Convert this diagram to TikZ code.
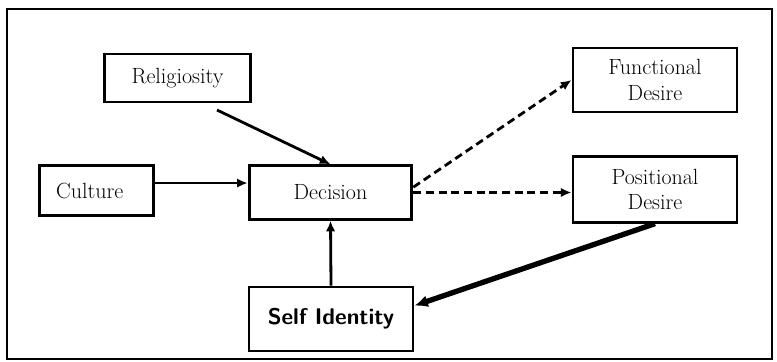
\documentclass[tikz,border=0pt]{standalone}
\usepackage{tikz}
\usetikzlibrary{arrows.meta}
\tikzset{edge/.style = {-{Latex[length=8pt,width=7pt]}, line width=2.1pt}}
\tikzset{dash edge/.style = {edge, dash pattern=on 6pt off 3.5pt}}

\begin{document}
\begin{tikzpicture}[x=0.75pt, y=-0.75pt, box node/.style={rectangle,draw,line width=2.2pt,align=center,font=\fontsize{16.5}{19}\selectfont}]
            \useasboundingbox (0,0) rectangle (777,361);
            \draw[line width=2.2pt] (7,9) rectangle (772,359);
            \node[box node, minimum width=110pt, minimum height=36pt] (rel) at (177.5,78) {Religiosity};
            \node[box node, minimum width=86pt, minimum height=37pt] (cult) at (96.5,190.5) {Culture\hspace*{10pt}};
            \node[box node, minimum width=122pt, minimum height=40pt] (dec) at (330.5,192.5) {Decision};
            \node[box node, minimum width=123pt, minimum height=48pt] (fun) at (655,80) {Functional\\Desire};
            \node[box node, minimum width=123pt, minimum height=49pt] (pos) at (655,189.5) {Positional\\Desire};
            \node[box node, minimum width=123pt, minimum height=48pt, font=\fontsize{17}{20}\selectfont\sffamily\bfseries] (self) at (331,319) {Self Identity};
            \coordinate (relout) at (217,110);
            \draw[edge] (relout) -- (dec.north);
            \draw[edge] ([yshift=5.6pt]cult.east) -- ([yshift=5.6pt]cult.east -| dec.west);
            \draw[dash edge] ([yshift=4pt]dec.east) -- (fun.west);
            \draw[dash edge] (dec.east) -- (dec.east -| pos.west);
            \draw[edge] (self.north) -- (dec.south);
            \draw[edge, line width=4pt, -{Latex[length=10pt,width=9pt]}] (pos.south) -- ([yshift=10pt]self.east);
        \end{tikzpicture}
\end{document}
